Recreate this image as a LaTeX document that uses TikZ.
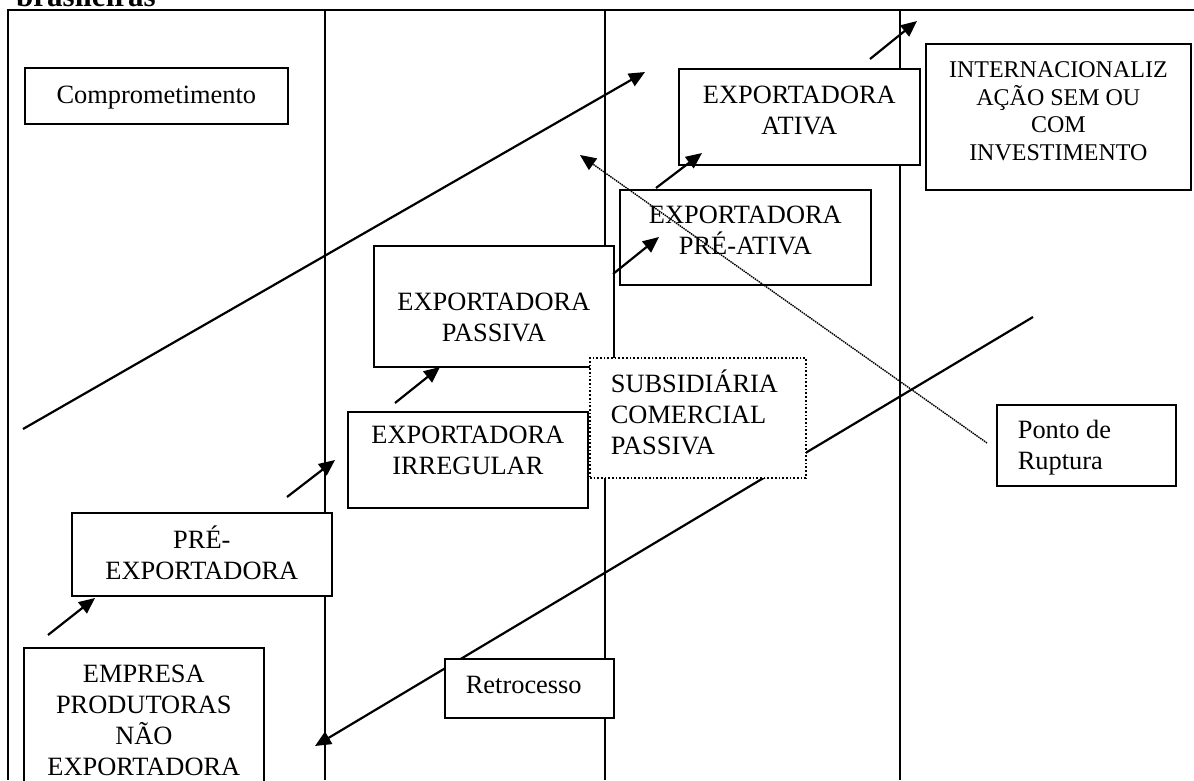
\documentclass[tikz,border=0pt]{standalone}
\usepackage{fontspec}
\setmainfont{Liberation Serif}
\usetikzlibrary{arrows.meta}

\newcommand{\grande}{\fontsize{26.4}{31}\selectfont}
\newcommand{\menor}{\fontsize{24}{27.5}\selectfont}
% texto no topo da caixa: largura, altura, 1a linha, alinhamento, texto
\newcommand{\caixatxt}[5]{\parbox[c][#2][t]{#1}{#4\rule{0pt}{#3}#5}}

\begin{document}
\begin{tikzpicture}[x=1pt, y=-1pt,
   caixa/.style={draw, line width=1.7pt, fill=white, inner sep=0pt, anchor=north west, font=\grande},
   pontilhada/.style={caixa, dotted},
   seta/.style={line width=2.2pt, -{Triangle[length=16pt,width=14pt]}},
   linha/.style={line width=2pt}]
   \useasboundingbox (0,0) rectangle (1194,780);
   \node[font=\fontsize{31}{36}\selectfont\bfseries, anchor=base west, inner sep=0pt] (titulo) at (16,6) {brasileiras};

   % quadro e colunas
   \draw[linha] (1194,10) -- (8,10) -- (8,780);
   \foreach \x in {325,605,900}
      \draw[linha] (\x,10) -- (\x,780);

   % extremos das setas
   \coordinate (a1) at (48,635);  \coordinate (b1) at (95,598);
   \coordinate (a2) at (287,497); \coordinate (b2) at (335,460);
   \coordinate (a3) at (395,403); \coordinate (b3) at (440,367);
   \coordinate (a4) at (613,274); \coordinate (b4) at (659,237);
   \coordinate (a5) at (656,188); \coordinate (b5) at (702,153);
   \coordinate (a6) at (870,59);  \coordinate (b6) at (917,21);
   \coordinate (c1) at (23,429);  \coordinate (c2) at (645,72);
   \coordinate (u1) at (987,443); \coordinate (u2) at (580,155);
   \coordinate (r1) at (1033,317); \coordinate (r2) at (315,746);

   \draw[seta] (r1) -- (r2);

   % caixas
   \node[caixa] (compr) at (24,67) {\caixatxt{263pt}{56pt}{36pt}{\centering}{Comprometimento}};
   \node[caixa] (ativa) at (678,68) {\caixatxt{241pt}{96pt}{35pt}{\centering}{EXPORTADORA\\ATIVA}};
   \node[caixa, font=\menor] (inter) at (925,43) {\caixatxt{265pt}{146pt}{34pt}{\centering}{INTERNACIONALIZ\\AÇÃO SEM OU\\COM\\INVESTIMENTO}};
   \node[caixa] (preativa) at (619,189) {\caixatxt{251pt}{95pt}{34pt}{\centering}{EXPORTADORA\\PRÉ-ATIVA}};
   \node[caixa] (passiva) at (373,245) {\caixatxt{240pt}{121pt}{65pt}{\centering}{EXPORTADORA\\PASSIVA}};
   \node[caixa] (irreg) at (347,411) {\caixatxt{240pt}{96pt}{32pt}{\centering}{EXPORTADORA\\IRREGULAR}};
   \node[pontilhada] (subsid) at (589,357) {\caixatxt{216pt}{120pt}{35pt}{\raggedright\leftskip=21pt}{SUBSIDIÁRIA\\COMERCIAL\\PASSIVA}};
   \node[caixa] (ponto) at (996,404) {\caixatxt{179pt}{81pt}{34pt}{\raggedright\leftskip=21pt}{Ponto de\\Ruptura}};
   \node[caixa] (retro) at (444,658) {\caixatxt{169pt}{59pt}{35pt}{\raggedright\leftskip=21pt}{Retrocesso}};
   \node[caixa] (preexp) at (71,512) {\caixatxt{260pt}{83pt}{36pt}{\centering}{PRÉ-\\EXPORTADORA}};
   \node[caixa] (empresa) at (23,647) {\caixatxt{240pt}{150pt}{35pt}{\centering}{EMPRESA\\PRODUTORAS\\NÃO\\EXPORTADORA}};

   % setas
   \foreach \i in {1,...,6}
      \draw[seta] (a\i) -- (b\i);
   \draw[seta] (c1) -- (c2);
   \draw[seta, line width=1.4pt, dash pattern=on 1.5pt off 0.8pt] (u1) -- (u2);
\end{tikzpicture}
\end{document}
